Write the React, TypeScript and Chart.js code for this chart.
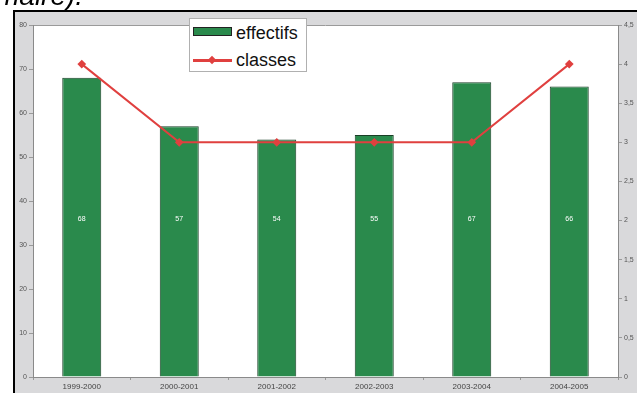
import React, { useEffect, useRef } from "react";
import { Chart, registerables } from "chart.js";

Chart.register(...registerables);

const categories = ["1999-2000", "2000-2001", "2001-2002", "2002-2003", "2003-2004", "2004-2005"];
const effectifs = [68, 57, 54, 55, 67, 66];
const classes = [4, 3, 3, 3, 3, 4];
const leftTicks = { min: 0, max: 80, step: 10 };
const rightTicks = { min: 0, max: 4.5, step: 0.5 };
const labelLevel = 36;

const GREEN = "#2a8a4c";
const GREEN_BORDER = "#1a3f27";
const RED = "#e0403f";
const GREY_BG = "#d9d9db";
const FONT = "'Liberation Sans', Arial, sans-serif";

const framePlugin = {
  id: "frame",
  beforeDraw(chart: any) {
    const { ctx, width, height, chartArea } = chart;
    ctx.save();
    ctx.fillStyle = "#ffffff";
    ctx.fillRect(0, 0, width, height);
    ctx.fillStyle = GREY_BG;
    ctx.fillRect(15, 12, width - 15, height - 12);
    ctx.fillStyle = "#000000";
    ctx.fillRect(13, 10, width - 13, 2);
    ctx.fillRect(13, 10, 2, height - 10);
    ctx.fillStyle = "#ffffff";
    ctx.fillRect(chartArea.left, chartArea.top, chartArea.right - chartArea.left, chartArea.bottom - chartArea.top);
    ctx.strokeStyle = "#9a9a9a";
    ctx.lineWidth = 1;
    ctx.beginPath();
    ctx.moveTo(chartArea.left, chartArea.top + 0.5);
    ctx.lineTo(chartArea.right, chartArea.top + 0.5);
    ctx.stroke();
    ctx.restore();
  },
};

const barLabelPlugin = {
  id: "barLabels",
  afterDatasetsDraw(chart: any) {
    const meta = chart.getDatasetMeta(1);
    const yScale = chart.scales.y;
    const ctx = chart.ctx;
    ctx.save();
    ctx.fillStyle = "#ffffff";
    ctx.font = `7px ${FONT}`;
    ctx.textAlign = "center";
    ctx.textBaseline = "middle";
    meta.data.forEach((bar: any, i: number) => {
      ctx.fillText(String(effectifs[i]), bar.x, yScale.getPixelForValue(labelLevel));
    });
    ctx.restore();
  },
};

export default function App() {
  const ref = useRef<HTMLCanvasElement | null>(null);

  useEffect(() => {
    if (!ref.current) return;
    const chart = new Chart(ref.current, {
      type: "bar",
      data: {
        labels: categories,
        datasets: [
          {
            type: "line",
            label: "classes",
            data: classes,
            yAxisID: "y1",
            borderColor: RED,
            backgroundColor: RED,
            borderWidth: 2,
            pointStyle: "rectRot",
            pointRadius: 3,
            pointBackgroundColor: RED,
            pointBorderColor: RED,
            tension: 0,
            order: 0,
          } as any,
          {
            type: "bar",
            label: "effectifs",
            data: effectifs,
            yAxisID: "y",
            backgroundColor: GREEN,
            borderColor: GREEN_BORDER,
            borderWidth: 1,
            categoryPercentage: 1,
            barPercentage: 0.4,
            order: 1,
          } as any,
        ],
      },
      options: {
        responsive: false,
        animation: false,
        devicePixelRatio: 1,
        layout: { padding: { left: 14, right: 0, top: 25, bottom: 0 } },
        plugins: {
          legend: { display: false },
          tooltip: { enabled: false },
        },
        scales: {
          x: {
            offset: true,
            grid: { display: true, drawOnChartArea: false, offset: true, tickLength: 3, color: "#9a9a9a" },
            border: { display: true, color: "#8a8a8a" },
            ticks: { color: "#444", font: { size: 8, family: FONT }, padding: 2, maxRotation: 0 },
            afterFit(scale: any) {
              scale.height = 16;
            },
          },
          y: {
            position: "left",
            min: leftTicks.min,
            max: leftTicks.max,
            ticks: { stepSize: leftTicks.step, color: "#555", font: { size: 7, family: FONT }, padding: 2 },
            grid: { display: true, drawOnChartArea: false, tickLength: 4, color: "#9a9a9a" },
            border: { display: true, color: "#8a8a8a" },
            afterFit(scale: any) {
              scale.width = 19;
            },
          },
          y1: {
            position: "right",
            min: rightTicks.min,
            max: rightTicks.max,
            ticks: {
              stepSize: rightTicks.step,
              color: "#555",
              font: { size: 7, family: FONT },
              padding: 2,
              callback: (v: any) => String(v).replace(".", ","),
            },
            grid: { display: true, drawOnChartArea: false, tickLength: 4, color: "#9a9a9a" },
            border: { display: true, color: "#8a8a8a" },
            afterFit(scale: any) {
              scale.width = 19;
            },
          },
        },
      },
      plugins: [framePlugin, barLabelPlugin],
    });
    return () => chart.destroy();
  }, []);

  return (
    <div style={{ position: "fixed", left: 0, top: 0, width: 637, height: 393, overflow: "hidden", background: "#fff" }}>
      <canvas ref={ref} width={637} height={393} style={{ position: "absolute", left: 0, top: 0, width: 637, height: 393 }} />
      <div
        style={{
          position: "absolute",
          left: -4,
          top: -18,
          fontFamily: FONT,
          fontStyle: "italic",
          fontSize: 28,
          lineHeight: "28px",
          color: "#000",
          whiteSpace: "nowrap",
        }}
      >
        maire).
      </div>
      <div
        style={{
          position: "absolute",
          left: 189,
          top: 18,
          width: 118,
          height: 54,
          boxSizing: "border-box",
          background: "#fff",
          border: "1px solid #b0b0b0",
          fontFamily: FONT,
          fontSize: 18,
          color: "#111",
        }}
      >
        <div style={{ position: "absolute", left: 3, top: 8, width: 39, height: 9, boxSizing: "border-box", background: GREEN, border: "1px solid #222" }} />
        <div style={{ position: "absolute", left: 46, top: 2, lineHeight: "24px" }}>effectifs</div>
        <div style={{ position: "absolute", left: 3, top: 40, width: 39, height: 3, background: RED }} />
        <div style={{ position: "absolute", left: 19, top: 38, width: 6, height: 6, background: RED, transform: "rotate(45deg)" }} />
        <div style={{ position: "absolute", left: 46, top: 29, lineHeight: "24px" }}>classes</div>
      </div>
    </div>
  );
}
